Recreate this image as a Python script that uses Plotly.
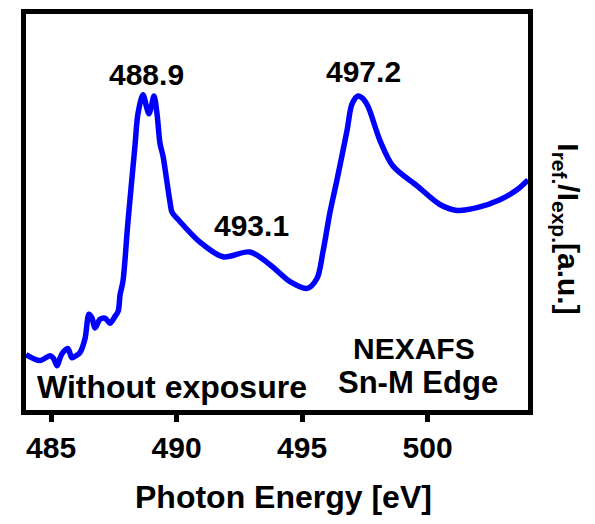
import plotly.graph_objects as go

energy = [484.0, 484.56, 484.96, 485.1, 485.24, 485.36, 485.47, 485.67, 485.83, 485.99,
          486.15, 486.35, 486.51, 486.63, 486.75, 486.95, 487.15, 487.35, 487.55, 487.67,
          487.75, 487.86, 488.06, 488.34, 488.46, 488.66, 488.82, 488.9, 488.98, 489.1,
          489.22, 489.34, 489.46, 489.62, 489.74, 489.82, 490.06, 490.93, 491.85, 492.92,
          493.72, 494.52, 495.2, 495.59, 495.83, 496.11, 496.39, 496.79, 496.99, 497.23,
          497.43, 497.63, 498.1, 498.62, 499.58, 500.49, 501.17, 501.97, 502.88, 503.56, 504.0]
intensity = [0.140, 0.125, 0.137, 0.130, 0.112, 0.132, 0.145, 0.155, 0.132, 0.137,
             0.145, 0.180, 0.242, 0.232, 0.207, 0.229, 0.232, 0.219, 0.237, 0.249,
             0.292, 0.324, 0.474, 0.666, 0.748, 0.796, 0.761, 0.748, 0.763, 0.793,
             0.748, 0.673, 0.641, 0.574, 0.524, 0.499, 0.481, 0.424, 0.387, 0.399,
             0.367, 0.324, 0.307, 0.332, 0.399, 0.499, 0.581, 0.706, 0.773, 0.793,
             0.786, 0.766, 0.681, 0.616, 0.566, 0.519, 0.504, 0.511, 0.531, 0.556, 0.581]

tick_vals = [485, 490, 495, 500]
tick_text = ["485", "490", "495", "500"]

peak_labels = ["488.9", "493.1", "497.2"]
peak_x = [488.82, 493.0, 497.43]
peak_y = [0.848, 0.466, 0.855]

FONT = "Arial, Liberation Sans, sans-serif"

fig = go.Figure()
fig.add_trace(go.Scatter(
    x=energy, y=intensity, mode="lines",
    line=dict(color="#0000FF", width=5.5, shape="spline", smoothing=0.9),
    showlegend=False, hoverinfo="skip"))

for t, xv, yv in zip(peak_labels, peak_x, peak_y):
    fig.add_annotation(x=xv, y=yv, text=t, showarrow=False, xanchor="center", yanchor="middle",
                       font=dict(family=FONT, size=30, color="black", weight="bold"))

fig.add_annotation(x=499.46, y=0.155, text="NEXAFS", showarrow=False, xanchor="center", yanchor="middle",
                   font=dict(family=FONT, size=30, color="black", weight="bold"))
fig.add_annotation(x=499.6, y=0.07, text="Sn-M Edge", showarrow=False, xanchor="center", yanchor="middle",
                   font=dict(family=FONT, size=31, color="black", weight="bold"))
fig.add_annotation(x=489.8, y=0.057, text="Without exposure", showarrow=False, xanchor="center", yanchor="middle",
                   font=dict(family=FONT, size=32, color="black", weight="bold"))

# x axis title
fig.add_annotation(xref="paper", yref="paper", x=(283 - 26) / 502, y=-(498 - 410) / 401,
                   text="Photon Energy [eV]", showarrow=False, xanchor="center", yanchor="middle",
                   font=dict(family=FONT, size=32, color="black", weight="bold"))
# right y title
fig.add_annotation(xref="paper", yref="paper", x=(567 - 26) / 502, y=(410 - 226) / 401,
                   text="I<sub>ref.</sub>/I<sub>exp.</sub>[a.u.]", showarrow=False, textangle=90,
                   xanchor="center", yanchor="middle",
                   font=dict(family=FONT, size=30, color="black", weight="bold"))

fig.update_layout(
    width=595, height=524,
    margin=dict(l=26, r=67, t=9, b=114),
    paper_bgcolor="white", plot_bgcolor="white",
    xaxis=dict(range=[484, 504], tickvals=tick_vals, ticktext=tick_text,
               showgrid=False, zeroline=False, showline=True, linecolor="black", linewidth=5,
               mirror=True, ticks="outside", ticklen=7, tickwidth=5, tickcolor="black",
               tickfont=dict(family=FONT, size=30, color="black", weight="bold")),
    yaxis=dict(range=[0, 1], showgrid=False, zeroline=False, showline=True, linecolor="black",
               linewidth=5, mirror=True, showticklabels=False, ticks=""),
)

fig.write_html("out.html")
